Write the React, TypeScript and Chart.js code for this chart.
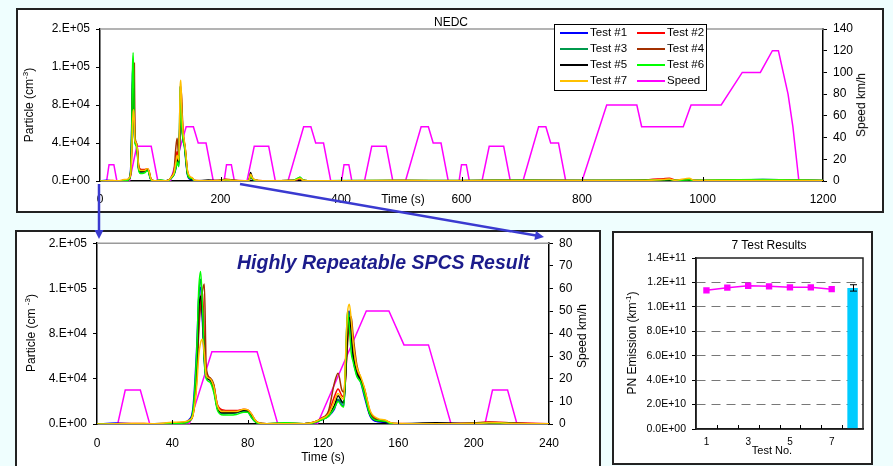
import React, { useEffect, useRef } from "react";
import { Chart, registerables } from "chart.js";

Chart.register(...registerables);

const FONT = "Arial, 'Liberation Sans', Helvetica, sans-serif";

// ---------- Particle concentration time grid (s) ----------
const TIME_S = [
  0, 10, 20, 30, 40, 46, 49, 51, 53, 54,
  55, 56, 57, 58, 60, 62, 64, 67, 70, 74,
  78, 80, 82, 84, 86, 90, 100, 110, 115, 119,
  123, 126, 128, 130, 131, 132, 133, 134, 135, 136,
  138, 140, 142, 145, 149, 153, 156, 160, 180, 200,
  208, 214, 220, 240, 247, 250, 253, 258, 270, 320,
  328, 332, 336, 345, 400, 500, 600, 700, 800, 900,
  935, 945, 955, 972, 978, 985, 1000, 1100, 1200,
];

// Particle concentration in thousands per cm3
const TEST1_K = [
  0, 0.8, 0.3, 0.2, 0.6, 1.5, 4, 15, 70, 112,
  121, 90, 55, 41, 39, 30, 13, 9, 9.5, 10,
  11.5, 11, 6, 2, 0.4, 0.2, 0.3, 0.3, 1.2, 3.5,
  7, 13, 21, 17, 16, 45, 92, 100, 78, 58,
  43, 37, 24, 7, 2, 1.5, 0.3, 0.2, 0.1, 0.3,
  0.8, 0.6, 0.3, 0.1, 0.4, 4, 2, 0.4, 0.1, 0.3,
  1.5, 2.5, 0.8, 0.1, 0.2, 0.3, 0.2, 0.4, 0.2, 0.3,
  0.6, 0.8, 0.4, 0.5, 0.8, 0.3, 0.3, 1.5, 0.2,
];
const TEST2_K = [
  0, 0.3, 0.5, 0.2, 0.5, 1, 3, 9, 45, 88,
  110, 117, 75, 44, 40, 34, 17, 12.5, 12, 12,
  13, 12.5, 9, 3.5, 1, 0.3, 0.4, 0.3, 1.5, 4.5,
  10, 24, 31, 25, 24, 40, 75, 88, 90, 72,
  48, 40, 31, 11, 4, 3, 1, 0.4, 0.2, 1,
  1.8, 1.5, 1, 0.3, 0.3, 5, 3, 1, 0.2, 0.4,
  1.5, 2.5, 0.8, 0.2, 0.3, 0.4, 0.3, 0.5, 0.3, 1,
  2.5, 3, 1, 0.6, 1, 0.5, 0.4, 0.5, 0.4,
];
const TEST3_K = [
  0, 0.3, 0.3, 0.2, 0.4, 1, 3, 11, 60, 110,
  128, 100, 60, 42, 40, 32, 14, 9.5, 9.5, 10,
  12, 11.5, 7.5, 2.5, 0.6, 0.2, 0.8, 0.3, 1.3, 3.8,
  8, 15, 22, 19, 18, 55, 100, 95, 80, 60,
  44, 39, 28, 9, 3, 2.5, 0.6, 0.2, 0.2, 0.4,
  1, 1, 0.5, 0.2, 0.5, 6, 3, 0.6, 0.2, 0.5,
  2.5, 4, 1.2, 0.2, 0.3, 0.4, 0.3, 0.6, 0.5, 0.6,
  1, 1.2, 0.6, 0.8, 1, 0.5, 0.6, 0.8, 0.4,
];
const TEST4_K = [
  0, 0.2, 0.3, 0.3, 0.5, 1, 2.5, 8, 40, 80,
  105, 118, 124, 50, 41, 35, 16, 11.5, 11, 11,
  12.5, 12, 8.5, 3, 0.8, 0.3, 0.4, 0.3, 1.5, 5,
  12, 36, 45, 30, 28, 45, 70, 92, 95, 78,
  52, 41, 31, 10, 4, 3, 0.8, 0.3, 0.2, 0.6,
  1.5, 1.2, 0.6, 0.2, 0.5, 5, 2.5, 0.8, 0.2, 0.4,
  2, 3, 1, 0.2, 0.3, 0.4, 0.5, 0.4, 0.6, 0.5,
  1.5, 1.5, 0.8, 0.7, 1.2, 0.6, 0.4, 0.5, 0.5,
];
const TEST5_K = [
  0, 0.2, 0.2, 0.2, 0.4, 1, 3, 10, 55, 100,
  113, 95, 58, 42, 39, 31, 14, 10, 10, 10.5,
  12, 11.5, 7, 2.5, 0.5, 0.2, 0.3, 0.3, 1.2, 3.8,
  8, 16, 25, 20, 19, 42, 80, 94, 82, 60,
  45, 39, 27, 8, 3, 2, 0.4, 0.2, 1, 0.3,
  0.8, 0.7, 0.4, 0.1, 0.5, 9, 3, 0.6, 0.2, 0.4,
  2, 3, 1, 0.2, 0.2, 0.3, 0.3, 0.6, 0.4, 0.4,
  0.7, 0.9, 0.5, 0.6, 0.9, 0.4, 0.3, 0.6, 0.3,
];
const TEST6_K = [
  0, 0.2, 0.2, 0.2, 0.3, 0.8, 2.5, 12, 65, 118,
  135, 105, 55, 40, 37, 28, 12, 8, 8, 8.5,
  10.5, 10.5, 6, 2, 0.4, 0.2, 1, 0.3, 1, 3.5,
  7, 14, 20, 16, 15, 50, 99, 85, 63, 55,
  42, 37, 26, 8, 3, 2.5, 0.5, 0.3, 0.2, 0.4,
  1, 0.8, 0.5, 0.3, 0.5, 5, 2.5, 0.5, 0.3, 0.6,
  3, 4, 1.5, 0.3, 0.4, 0.5, 0.6, 0.7, 0.5, 0.8,
  1.2, 1.5, 0.8, 1, 1.2, 0.6, 0.8, 1.5, 0.6,
];
const TEST7_K = [
  0, 0.3, 0.4, 0.3, 1.5, 2, 3.5, 8, 35, 60,
  72, 75, 62, 43, 40, 33, 16, 11, 11, 11,
  13, 12.5, 9, 3.5, 1, 0.3, 0.3, 0.3, 1.5, 4.5,
  9, 20, 27, 23, 22, 60, 98, 106, 92, 72,
  50, 42, 32, 12, 5, 3.5, 1.2, 0.4, 0.2, 0.4,
  1, 1, 0.5, 0.2, 0.6, 7, 3.5, 1, 0.3, 0.4,
  2, 3, 1, 0.2, 0.3, 0.4, 0.3, 0.6, 0.6, 0.5,
  1.5, 2, 0.8, 2.5, 3, 0.8, 0.5, 0.6, 0.3,
];

const TEST_LABELS = ["Test #1", "Test #2", "Test #3", "Test #4", "Test #5", "Test #6", "Test #7"];
const TEST_COLORS = ["#0000ff", "#ff0000", "#00994c", "#a33000", "#000000", "#00ff00", "#ffc000"];
const TEST_SERIES = [TEST1_K, TEST2_K, TEST3_K, TEST4_K, TEST5_K, TEST6_K, TEST7_K];

// ---------- NEDC speed profile vertices ----------
const SPEED_TIME_S = [
  0, 11, 15, 23, 28, 49, 61, 85, 96, 117, 143, 155, 163, 176, 188,
  195, 206, 210, 218, 223, 244, 256, 280, 291, 312, 338, 350, 358, 371, 383,
  390, 401, 405, 413, 418, 439, 451, 475, 486, 507, 533, 545, 553, 566, 578,
  585, 596, 600, 608, 613, 634, 646, 670, 681, 702, 728, 740, 748, 761, 773,
  780, 800, 841, 891, 899, 968, 981, 1031, 1066, 1096, 1116, 1126, 1142, 1150, 1160, 1180, 1200,
];
const SPEED_KMH = [
  0, 0, 15, 15, 0, 0, 32, 32, 0, 0, 50, 50, 35, 35, 0,
  0, 0, 15, 15, 0, 0, 32, 32, 0, 0, 50, 50, 35, 35, 0,
  0, 0, 15, 15, 0, 0, 32, 32, 0, 0, 50, 50, 35, 35, 0,
  0, 0, 15, 15, 0, 0, 32, 32, 0, 0, 50, 50, 35, 35, 0,
  0, 0, 70, 70, 50, 50, 70, 70, 100, 100, 120, 120, 80, 50, 0, 0, 0,
];
const SPEED_COLOR = "#ff00ff";

// ---------- 7 test results ----------
const RESULT_CATEGORIES = ["1", "2", "3", "4", "5", "6", "7", "Mean"];
const PN_EMISSION = [1.135e11, 1.157e11, 1.173e11, 1.168e11, 1.16e11, 1.16e11, 1.145e11];
const PN_MEAN = 1.155e11;
const PN_ERROR = 0.026e11;

function fmtExp(v: number, d: number): string {
  if (Math.abs(v) < 1e-9) return (d === 0 ? "0." : (0).toFixed(d)) + "E+00";
  let e = Math.floor(Math.log10(Math.abs(v)) + 1e-9);
  let ms = (v / Math.pow(10, e)).toFixed(d);
  if (Math.abs(parseFloat(ms)) >= 10) {
    e += 1;
    ms = (v / Math.pow(10, e)).toFixed(d);
  }
  if (d === 0) ms += ".";
  return ms + "E" + (e < 0 ? "-" : "+") + String(Math.abs(e)).padStart(2, "0");
}

function particleDatasets(): any[] {
  const ds: any[] = TEST_SERIES.map((vals, i) => ({
    type: "line",
    label: TEST_LABELS[i],
    data: TIME_S.map((t, j) => ({ x: t, y: vals[j] * 1000 })),
    borderColor: TEST_COLORS[i],
    borderWidth: 1.5,
    pointRadius: 0,
    cubicInterpolationMode: "monotone",
    yAxisID: "y",
    order: 7 - i,
  }));
  ds.push({
    type: "line",
    label: "Speed",
    data: SPEED_TIME_S.map((t, j) => ({ x: t, y: SPEED_KMH[j] })),
    borderColor: SPEED_COLOR,
    borderWidth: 1.5,
    pointRadius: 0,
    yAxisID: "y2",
    order: 8,
  });
  return ds;
}

const topLinePlugin = {
  id: "topLine",
  afterDatasetsDraw(chart: any) {
    const { ctx, chartArea: a } = chart;
    ctx.save();
    ctx.strokeStyle = "#9a9a9a";
    ctx.lineWidth = 1.5;
    ctx.beginPath();
    ctx.moveTo(a.left, a.top);
    ctx.lineTo(a.right, a.top);
    ctx.stroke();
    ctx.restore();
  },
};

function innerTicksPlugin(between: boolean, len: number) {
  return {
    id: "innerTicks",
    afterDraw(chart: any) {
      const { ctx, chartArea: a } = chart;
      const x = chart.scales.x;
      const pos: number[] = [];
      const n = x.ticks.length;
      if (between) {
        for (let i = 1; i < n; i++) pos.push((x.getPixelForTick(i - 1) + x.getPixelForTick(i)) / 2);
      } else {
        for (let i = 1; i < n - 1; i++) pos.push(x.getPixelForTick(i));
      }
      ctx.save();
      ctx.strokeStyle = "#000";
      ctx.lineWidth = 1;
      ctx.beginPath();
      pos.forEach((p) => {
        const px = Math.round(p) + 0.5;
        ctx.moveTo(px, a.bottom);
        ctx.lineTo(px, a.bottom - len);
      });
      ctx.stroke();
      ctx.restore();
    },
  };
}

function particleConfig(opts: {
  xMax: number; xStep: number; speedMax: number; speedStep: number;
  leftW: number; rightW: number; bottomH: number; padTop: number;
  tickFont: number; xPad: number;
}): any {
  return {
    type: "line",
    data: { datasets: particleDatasets() },
    options: {
      animation: false,
      responsive: false,
      devicePixelRatio: 1,
      events: [],
      layout: { padding: { top: opts.padTop, left: 0, right: 0, bottom: 0 } },
      plugins: { legend: { display: false }, tooltip: { enabled: false }, title: { display: false } },
      scales: {
        x: {
          type: "linear",
          min: 0,
          max: opts.xMax,
          ticks: {
            stepSize: opts.xStep, color: "#000", padding: opts.xPad,
            font: { size: opts.tickFont, family: FONT }, maxRotation: 0,
            callback: (v: any) => String(v),
          },
          grid: { display: false, drawTicks: false },
          border: { display: true, color: "#000", width: 1.5 },
          afterFit: (s: any) => { s.height = opts.bottomH; },
        },
        y: {
          position: "left",
          min: 0,
          max: 160000,
          ticks: { stepSize: 40000, color: "#000", padding: 6, font: { size: opts.tickFont, family: FONT }, callback: (v: any) => fmtExp(Number(v), 0) },
          grid: { display: true, drawOnChartArea: false, drawTicks: true, tickLength: 4, color: "#000" },
          border: { display: true, color: "#000", width: 1.5 },
          afterFit: (s: any) => { s.width = opts.leftW; },
        },
        y2: {
          position: "right",
          min: 0,
          max: opts.speedMax,
          ticks: { stepSize: opts.speedStep, color: "#000", padding: 6, font: { size: opts.tickFont, family: FONT }, callback: (v: any) => String(v) },
          grid: { display: true, drawOnChartArea: false, drawTicks: true, tickLength: 4, color: "#000" },
          border: { display: true, color: "#000", width: 1.5 },
          afterFit: (s: any) => { s.width = opts.rightW; },
        },
      },
    },
    plugins: [topLinePlugin, innerTicksPlugin(false, 4)],
  };
}

function resultsConfig(): any {
  const frame = {
    id: "frame",
    afterDraw(chart: any) {
      const { ctx, chartArea: a } = chart;
      ctx.save();
      ctx.strokeStyle = "#222";
      ctx.lineWidth = 1.5;
      ctx.strokeRect(a.left, a.top, a.right - a.left, a.bottom - a.top);
      ctx.restore();
    },
  };
  const errorBar = {
    id: "errorBar",
    afterDatasetsDraw(chart: any) {
      const { ctx } = chart;
      const meta = chart.getDatasetMeta(1);
      const el = meta.data[0];
      if (!el) return;
      const y = chart.scales.y;
      const t = y.getPixelForValue(PN_MEAN + PN_ERROR);
      const b = y.getPixelForValue(PN_MEAN - PN_ERROR);
      const x = Math.round(el.x) + 0.5;
      ctx.save();
      ctx.strokeStyle = "#000";
      ctx.lineWidth = 1;
      ctx.beginPath();
      ctx.moveTo(x, t); ctx.lineTo(x, b);
      ctx.moveTo(x - 3.5, t); ctx.lineTo(x + 3.5, t);
      ctx.moveTo(x - 3.5, b); ctx.lineTo(x + 3.5, b);
      ctx.stroke();
      ctx.restore();
    },
  };
  return {
    type: "bar",
    data: {
      labels: RESULT_CATEGORIES,
      datasets: [
        {
          type: "line",
          label: "PN Emission",
          data: PN_EMISSION,
          borderColor: SPEED_COLOR,
          backgroundColor: SPEED_COLOR,
          borderWidth: 1.5,
          pointStyle: "rect",
          pointRadius: 4.5,
          pointBorderWidth: 0,
          pointBackgroundColor: SPEED_COLOR,
          order: 0,
        },
        {
          type: "bar",
          label: "Mean",
          data: [{ x: "Mean", y: PN_MEAN }],
          backgroundColor: "#00ccff",
          barPercentage: 0.5,
          categoryPercentage: 1,
          order: 1,
        },
      ],
    },
    options: {
      animation: false,
      responsive: false,
      devicePixelRatio: 1,
      events: [],
      layout: { padding: { top: 27, right: 10, left: 0, bottom: 0 } },
      plugins: { legend: { display: false }, tooltip: { enabled: false }, title: { display: false } },
      scales: {
        x: {
          type: "category",
          offset: true,
          ticks: {
            autoSkip: false, maxRotation: 0, padding: 7, color: "#000",
            font: { size: 10, family: FONT },
            callback: (_v: any, i: number) => (i % 2 === 0 ? RESULT_CATEGORIES[i] : ""),
          },
          grid: { display: false, drawTicks: false },
          border: { display: true, color: "#000", width: 1.5 },
          afterFit: (s: any) => { s.height = 36; },
        },
        y: {
          min: 0,
          max: 1.4e11,
          ticks: { stepSize: 2e10, padding: 6, color: "#000", font: { size: 10.5, family: FONT }, callback: (v: any) => fmtExp(Number(v), 1) },
          grid: {
            drawTicks: true, tickLength: 4, tickColor: "#000", lineWidth: 1,
            color: (c: any) => (c.tick && (c.tick.value <= 0 || c.tick.value >= 1.39e11) ? "rgba(0,0,0,0)" : "#777"),
          },
          border: { display: true, color: "#000", width: 1.5, dash: [9, 6] },
          afterFit: (s: any) => { s.width = 84; },
        },
      },
    },
    plugins: [frame, errorBar, innerTicksPlugin(true, 4)],
  };
}

function ChartCanvas(props: { left: number; top: number; width: number; height: number; make: () => any }) {
  const ref = useRef<HTMLCanvasElement>(null);
  useEffect(() => {
    const chart = new Chart(ref.current as HTMLCanvasElement, props.make());
    return () => chart.destroy();
  }, []);
  return (
    <canvas
      ref={ref}
      width={props.width}
      height={props.height}
      style={{ position: "absolute", left: props.left, top: props.top, width: props.width, height: props.height }}
    />
  );
}

function Txt(props: { x: number; y: number; rot?: number; size?: number; children: any; style?: any }) {
  return (
    <div
      style={{
        position: "absolute",
        left: props.x,
        top: props.y,
        transform: `translate(-50%,-50%) rotate(${props.rot || 0}deg)`,
        fontSize: props.size || 12,
        fontFamily: FONT,
        whiteSpace: "nowrap",
        lineHeight: 1.15,
        color: "#000",
        ...(props.style || {}),
      }}
    >
      {props.children}
    </div>
  );
}

const panel = (left: number, top: number, width: number, height: number): any => ({
  position: "absolute", left, top, width, height, background: "#fff",
  border: "2px solid #222", boxSizing: "border-box",
});

function Legend() {
  const items = TEST_LABELS.map((l, i) => ({ label: l, color: TEST_COLORS[i] }));
  items.push({ label: "Speed", color: SPEED_COLOR });
  return (
    <div style={{ position: "absolute", left: 554, top: 24, width: 153, height: 67, border: "1px solid #000", background: "#fff", boxSizing: "border-box" }}>
      {items.map((it, i) => {
        const col = i % 2;
        const row = Math.floor(i / 2);
        const cy = 7 + row * 16;
        const lx = col === 0 ? 5 : 82;
        return (
          <React.Fragment key={i}>
            <div style={{ position: "absolute", left: lx, top: cy, width: 28, height: 1.5, background: it.color }} />
            <div style={{ position: "absolute", left: lx + 30, top: cy - 7, fontSize: 11.5, lineHeight: "14px", fontFamily: FONT, whiteSpace: "nowrap", color: "#000" }}>
              {it.label}
            </div>
          </React.Fragment>
        );
      })}
    </div>
  );
}

function Arrows() {
  const col = "#3a3ad0";
  const head = (x1: number, y1: number, x2: number, y2: number) => {
    const dx = x2 - x1, dy = y2 - y1;
    const L = Math.hypot(dx, dy);
    const ux = dx / L, uy = dy / L;
    const bx = x2 - ux * 9, by = y2 - uy * 9;
    const px = -uy * 4.5, py = ux * 4.5;
    return `${x2},${y2} ${bx + px},${by + py} ${bx - px},${by - py}`;
  };
  return (
    <svg width={893} height={466} style={{ position: "absolute", left: 0, top: 0, pointerEvents: "none" }}>
      <line x1={99} y1={184} x2={99} y2={231} stroke={col} strokeWidth={2.5} />
      <polygon points={head(99, 184, 99, 239)} fill={col} />
      <line x1={240} y1={184} x2={536} y2={235.6} stroke={col} strokeWidth={2.5} />
      <polygon points={head(240, 184, 544, 237)} fill={col} />
    </svg>
  );
}

export default function App() {
  return (
    <div style={{ position: "fixed", left: 0, top: 0, width: 893, height: 466, background: "#effefe", overflow: "hidden", fontFamily: FONT }}>
      <div style={panel(16, 8, 868, 205)} />
      <div style={panel(15, 230, 586, 260)} />
      <div style={panel(612, 231, 261, 234)} />

      <ChartCanvas
        left={16} top={8} width={868} height={205}
        make={() => particleConfig({ xMax: 1200, xStep: 200, speedMax: 140, speedStep: 20, leftW: 84, rightW: 61, bottomH: 32, padTop: 21, tickFont: 12, xPad: 11 })}
      />
      <ChartCanvas
        left={15} top={230} width={586} height={236}
        make={() => particleConfig({ xMax: 240, xStep: 40, speedMax: 80, speedStep: 10, leftW: 82, rightW: 52, bottomH: 42, padTop: 11, tickFont: 12, xPad: 12 })}
      />
      <ChartCanvas left={612} top={231} width={261} height={234} make={resultsConfig} />

      {/* top chart texts */}
      <Txt x={451} y={23}>NEDC</Txt>
      <Txt x={29} y={105} rot={-90}>Particle (cm<sup style={{ fontSize: 8 }}>-3</sup>)</Txt>
      <Txt x={862} y={105} rot={-90}>Speed km/h</Txt>
      <Txt x={403} y={200}>Time (s)</Txt>
      <Legend />

      {/* bottom-left chart texts */}
      <Txt x={31} y={333} rot={-90}>Particle (cm <sup style={{ fontSize: 8 }}>-3</sup>)</Txt>
      <Txt x={583} y={336} rot={-90}>Speed km/h</Txt>
      <Txt x={323} y={458}>Time (s)</Txt>
      <div style={{ position: "absolute", left: 237, top: 263, transform: "translateY(-50%)", fontFamily: FONT, fontWeight: "bold", fontStyle: "italic", fontSize: 19.5, lineHeight: 1, color: "#1c1c8c", whiteSpace: "nowrap" }}>
        Highly Repeatable SPCS Result
      </div>

      {/* bottom-right chart texts */}
      <Txt x={769} y={246}>7 Test Results</Txt>
      <Txt x={632} y={343} rot={-90}>PN Emission (km<sup style={{ fontSize: 8 }}>-1</sup>)</Txt>
      <Txt x={772} y={450} size={11}>Test No.</Txt>

      <Arrows />
    </div>
  );
}
